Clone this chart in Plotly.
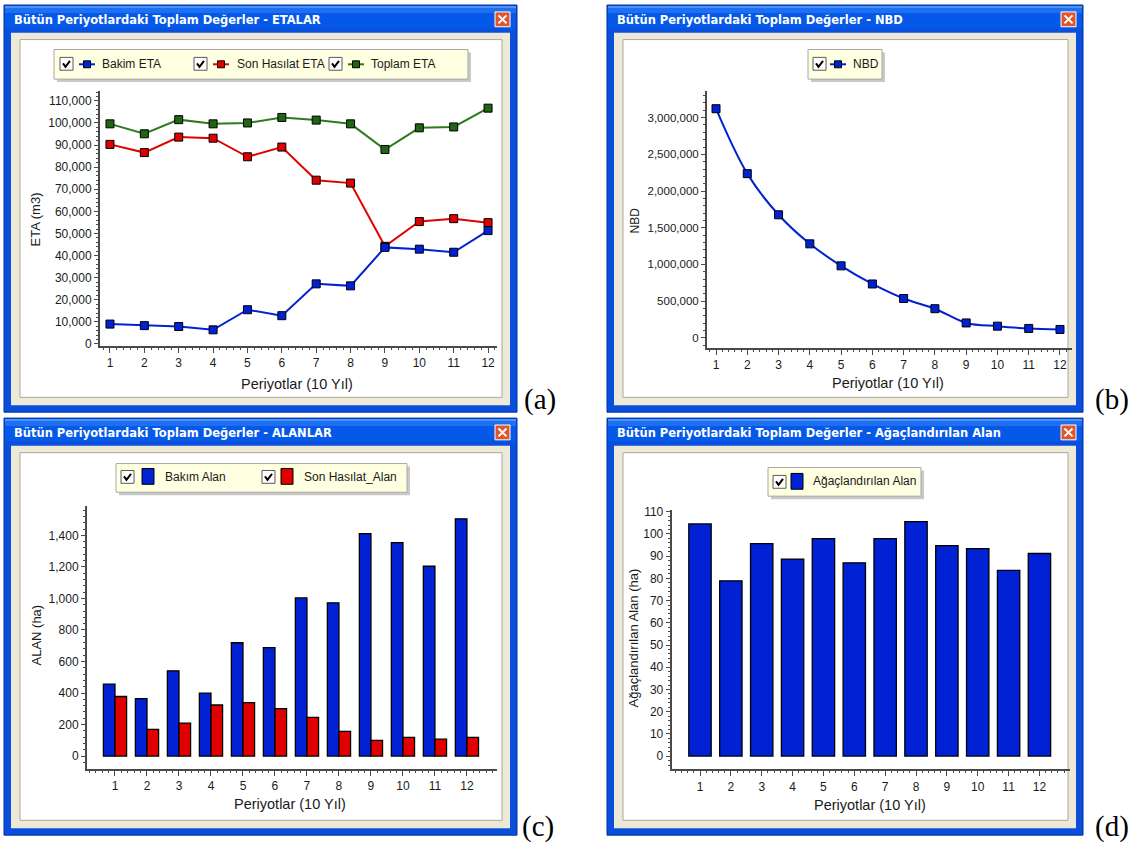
import plotly.graph_objects as go

W, H = 1140, 852

# ---- data ----------------------------------------------------------------
periods = list(range(1, 13))

bakim_eta = [9000, 8300, 7900, 6400, 15500, 12800, 27200, 26300, 43700, 42900, 41500, 51300]
son_hasilat_eta = [90300, 86600, 93600, 93100, 84700, 89100, 74100, 72800, 44200, 55400, 56700, 54900]
toplam_eta = [99600, 95100, 101500, 99600, 100000, 102500, 101300, 99600, 88000, 97800, 98200, 106700]

nbd = [3122000, 2237000, 1676000, 1280000, 980000, 733000, 535000, 396000, 202000, 158000, 127000, 113000]

bakim_alan = [456, 364, 541, 399, 719, 688, 1003, 972, 1411, 1354, 1204, 1505]
son_hasilat_alan = [378, 169, 209, 324, 339, 301, 245, 157, 100, 119, 107, 119]

agaclandirilan_alan = [104.5, 78.9, 95.6, 88.7, 97.9, 87.0, 97.9, 105.5, 94.7, 93.4, 83.6, 91.2]

# ---- colours / fonts -----------------------------------------------------
BLUE = "#0022D4"
RED = "#E00000"
GREEN_LINE = "#2E7B1C"
GREEN_MARK = "#1F6512"
AXIS = "#4A4A4A"
TXT = "#1A1A1A"
SANS = "Liberation Sans, Arial, sans-serif"
SERIF = "Liberation Serif, Times New Roman, serif"
TITLE_FONT = "DejaVu Sans, Tahoma, sans-serif"


def X(px):
    return px / W


def Y(py):
    return 1 - py / H


shapes = []
annotations = []


def rect(x0, y0, x1, y1, fill, line=None, lw=0):
    shapes.append(dict(type="rect", xref="paper", yref="paper",
                       x0=X(x0), x1=X(x1), y0=Y(y1), y1=Y(y0),
                       fillcolor=fill, layer="below",
                       line=dict(color=line or "rgba(0,0,0,0)", width=lw)))


def seg(x0, y0, x1, y1, color, lw):
    shapes.append(dict(type="line", xref="paper", yref="paper",
                       x0=X(x0), x1=X(x1), y0=Y(y0), y1=Y(y1),
                       layer="below", line=dict(color=color, width=lw)))


def path(points, color, lw):
    d = "M " + " L ".join(f"{X(a)},{Y(b)}" for a, b in points)
    shapes.append(dict(type="path", xref="paper", yref="paper", path=d,
                       layer="below", line=dict(color=color, width=lw)))


def text(x, y, s, size, color=TXT, family=SANS, xanchor="left", angle=0):
    annotations.append(dict(xref="paper", yref="paper", x=X(x), y=Y(y), text=s,
                            showarrow=False, xanchor=xanchor, yanchor="middle",
                            textangle=angle, font=dict(size=size, color=color, family=family)))


def window(x0, y0, x1, y1, title):
    # frame + title bar
    rect(x0, y0, x1, y1, "#0A4FDB", "#00309E", 1)
    rect(x0 + 1, y0 + 1, x1 - 1, y0 + 3, "#4A95FA")
    rect(x0 + 1, y0 + 3, x1 - 1, y0 + 8, "#1F6FF2")
    rect(x0 + 1, y0 + 8, x1 - 1, y0 + 24, "#0558E8")
    rect(x0 + 1, y0 + 24, x1 - 1, y0 + 28, "#0A4FDB")
    # client area
    rect(x0 + 7, y0 + 28, x1 - 7, y1 - 7, "#ECE9D8")
    rect(x0 + 16, y0 + 35, x1 - 15, y1 - 15, "white", "#ACA899", 1)
    # close button
    rect(x1 - 22, y0 + 7, x1 - 7, y0 + 22, "#E0552E", "white", 1)
    seg(x1 - 18.5, y0 + 10.5, x1 - 10.5, y0 + 18.5, "white", 2)
    seg(x1 - 18.5, y0 + 18.5, x1 - 10.5, y0 + 10.5, "white", 2)
    text(x0 + 8, y0 + 15, f"<b>{title}</b>", 11.5, "white", TITLE_FONT)


def legend_box(x0, y0, x1, y1):
    rect(x0 + 3, y0 + 3, x1 + 3, y1 + 3, "#C9C9C9")
    rect(x0, y0, x1, y1, "#FFFFE1", "#A8A8A8", 1)


def checkbox(x0, y0):
    rect(x0, y0, x0 + 13, y0 + 13, "white", "#5A5A5A", 1)
    path([(x0 + 3, y0 + 6), (x0 + 5.5, y0 + 9.5), (x0 + 10, y0 + 3.5)], "black", 2)


def line_symbol(x0, x1, y, color, mark):
    seg(x0, y, x1, y, color, 2)
    cx = (x0 + x1) / 2
    rect(cx - 3.5, y - 3.5, cx + 3.5, y + 3.5, mark, "black", 1)


def bar_symbol(x0, y0, color):
    rect(x0, y0, x0 + 12, y0 + 16, color, "black", 1)


# ---- windows -------------------------------------------------------------
window(4, 0, 517, 412, "Bütün Periyotlardaki Toplam Değerler - ETALAR")
window(607, 0, 1083, 412, "Bütün Periyotlardaki Toplam Değerler - NBD")
window(4, 418, 517, 840, "Bütün Periyotlardaki Toplam Değerler - ALANLAR")
window(607, 418, 1083, 840, "Bütün Periyotlardaki Toplam Değerler - Ağaçlandırılan Alan")

# ---- legends -------------------------------------------------------------
legend_box(54, 45, 468, 75)
checkbox(60, 53)
line_symbol(79, 95, 60, BLUE, BLUE)
text(100, 60, "Bakim ETA", 12)
checkbox(194, 53)
line_symbol(213, 229, 60, RED, RED)
text(235, 60, "Son Hasılat ETA", 12)
checkbox(329, 53)
line_symbol(348, 364, 60, GREEN_LINE, GREEN_MARK)
text(369, 60, "Toplam ETA", 12)

legend_box(808, 45, 882, 75)
checkbox(813, 53)
line_symbol(830, 846, 60, BLUE, BLUE)
text(851, 60, "NBD", 12)

legend_box(116, 464, 407, 493)
checkbox(121, 471)
bar_symbol(142, 469, BLUE)
text(163, 478, "Bakım Alan", 12)
checkbox(262, 471)
bar_symbol(281, 469, RED)
text(302, 478, "Son Hasılat_Alan", 12)

legend_box(768, 468, 921, 497)
checkbox(773, 476)
bar_symbol(791, 474, BLUE)
text(811, 482, "Ağaçlandırılan Alan", 12)

# ---- axis titles ---------------------------------------------------------
for cx, cy in [(297, 383), (888, 382), (290, 808), (870, 810)]:
    text(cx, cy, "Periyotlar (10 Yıl)", 14.5, xanchor="center")
text(35, 217, "ETA (m3)", 13, xanchor="center", angle=-90)
text(635, 218, "NBD", 12, xanchor="center", angle=-90)
text(37, 637, "ALAN (ha)", 13, xanchor="center", angle=-90)
text(633, 640, "Ağaçlandırılan Alan (ha)", 13, xanchor="center", angle=-90)

# ---- panel letters -------------------------------------------------------
text(540, 399, "(a)", 29, "black", SERIF, xanchor="center")
text(1112, 399, "(b)", 29, "black", SERIF, xanchor="center")
text(538, 831, "(c)", 29, "black", SERIF, xanchor="center")
text(1112, 831, "(d)", 29, "black", SERIF, xanchor="center")

# ---- traces --------------------------------------------------------------
fig = go.Figure()


def line_trace(values, color, mark, axis, shape="linear"):
    return go.Scatter(x=periods, y=values, mode="lines+markers",
                      line=dict(color=color, width=2, shape=shape),
                      marker=dict(symbol="square", size=8, color=mark,
                                  line=dict(color="black", width=1)),
                      xaxis="x" + axis, yaxis="y" + axis, hoverinfo="x+y")


fig.add_trace(line_trace(toplam_eta, GREEN_LINE, GREEN_MARK, ""))
fig.add_trace(line_trace(son_hasilat_eta, RED, RED, ""))
fig.add_trace(line_trace(bakim_eta, BLUE, BLUE, ""))
fig.add_trace(line_trace(nbd, BLUE, BLUE, "2", shape="spline"))

bar_line = dict(color="black", width=1.3)
fig.add_trace(go.Bar(x=periods, y=bakim_alan, marker=dict(color=BLUE, line=bar_line),
                     xaxis="x3", yaxis="y3", name="Bakım Alan"))
fig.add_trace(go.Bar(x=periods, y=son_hasilat_alan, marker=dict(color=RED, line=bar_line),
                     xaxis="x3", yaxis="y3", name="Son Hasılat_Alan"))
fig.add_trace(go.Bar(x=periods, y=agaclandirilan_alan, marker=dict(color=BLUE, line=bar_line),
                     xaxis="x4", yaxis="y4", name="Ağaçlandırılan Alan"))


# ---- axes ----------------------------------------------------------------
def xax(left, right, rng, anchor):
    return dict(domain=[X(left), X(right)], range=rng, anchor=anchor,
                showline=True, linecolor=AXIS, linewidth=2, mirror=False,
                ticks="outside", ticklen=5, tickwidth=1, tickcolor=AXIS,
                tickmode="linear", tick0=1, dtick=1,
                minor=dict(ticks="outside", ticklen=2, tickcolor=AXIS, tickwidth=1,
                           tick0=0, dtick=0.2),
                showgrid=False, zeroline=False, fixedrange=True,
                tickfont=dict(size=12, color=TXT, family=SANS))


def yax(top, bottom, rng, dtick, minor, anchor, size=12):
    return dict(domain=[Y(bottom), Y(top)], range=rng, anchor=anchor,
                showline=True, linecolor=AXIS, linewidth=2, mirror=False,
                ticks="outside", ticklen=4, tickwidth=1, tickcolor=AXIS,
                tickmode="linear", tick0=0, dtick=dtick, tickformat=",",
                minor=dict(ticks="outside", ticklen=2, tickcolor=AXIS, tickwidth=1,
                           tick0=0, dtick=minor),
                showgrid=False, zeroline=False, fixedrange=True,
                tickfont=dict(size=size, color=TXT, family=SANS))


fig.update_layout(
    width=W, height=H, autosize=False,
    margin=dict(l=0, r=0, t=0, b=0, pad=0),
    paper_bgcolor="white", plot_bgcolor="rgba(0,0,0,0)",
    showlegend=False, barmode="group", bargap=0.275, bargroupgap=0,
    font=dict(family=SANS, color=TXT),
    shapes=shapes, annotations=annotations,
    xaxis=xax(100, 497, [0.71, 12.26], "y"),
    yaxis=yax(87, 345, [-894, 114470], 10000, 2000, "x"),
    xaxis2=xax(707, 1072, [0.712, 12.384], "y2"),
    yaxis2=yax(87.3, 346.7, [-134700, 3359700], 500000, 100000, "x2", size=11.5),
    xaxis3=xax(87, 497, [0.125, 12.94], "y3"),
    yaxis3=yax(507.3, 772.7, [-79.6, 1584], 200, 40, "x3"),
    xaxis4=xax(671.7, 1070, [0.083, 12.99], "y4"),
    yaxis4=yax(510.7, 773.3, [-5.9, 110.9], 10, 2, "x4"),
)

fig.write_html("out.html")
